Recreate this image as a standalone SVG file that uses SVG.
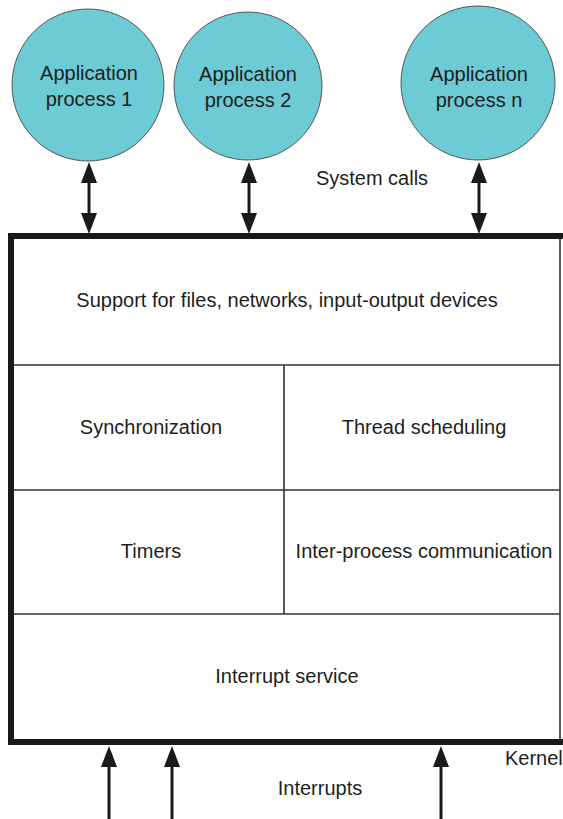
<svg xmlns="http://www.w3.org/2000/svg" width="563" height="819" viewBox="0 0 563 819">
  <style>
    text { font-family: "Liberation Sans", Arial, sans-serif; font-size: 20px; fill: #1e1e1e; text-anchor: middle; }
    .proc { fill: #6ccbd4; stroke: #555; stroke-width: 1; }
    .kernel { fill: none; stroke: #1a1a1a; stroke-width: 6; stroke-linejoin: miter; }
    .cell { stroke: #333; stroke-width: 1.6; fill: none; }
    .arrow { stroke: #1a1a1a; stroke-width: 3; fill: none; }
  </style>
  <defs>
    <marker id="head" markerUnits="userSpaceOnUse" markerWidth="21" markerHeight="16" refX="0" refY="8" orient="auto-start-reverse">
      <path d="M0,0 L21,8 L0,16 z" fill="#1a1a1a"/>
    </marker>
  </defs>

  <rect width="563" height="819" fill="#fff"/>

  <!-- application processes -->
  <g id="app1">
    <circle class="proc" cx="88" cy="85" r="76"/>
    <text x="89" y="80">Application</text>
    <text x="89" y="106">process 1</text>
  </g>
  <g id="app2">
    <circle class="proc" cx="248" cy="86" r="74"/>
    <text x="248" y="81">Application</text>
    <text x="248" y="107">process 2</text>
  </g>
  <g id="appn">
    <circle class="proc" cx="478" cy="83" r="77"/>
    <text x="479" y="81">Application</text>
    <text x="479" y="107">process n</text>
  </g>

  <!-- kernel frame and layers -->
  <g id="kernel">
    <line class="cell" x1="560" y1="236" x2="560" y2="742"/>
    <line class="cell" x1="11" y1="365" x2="560" y2="365"/>
    <line class="cell" x1="11" y1="490" x2="560" y2="490"/>
    <line class="cell" x1="11" y1="614" x2="560" y2="614"/>
    <line class="cell" x1="284" y1="365" x2="284" y2="614"/>
    <path class="kernel" d="M563,236 H11 V742 H563"/>
    <text x="505" y="765" style="text-anchor:start">Kernel</text>
  </g>
  <g id="support">
    <text x="287" y="307">Support for files, networks, input-output devices</text>
  </g>
  <g id="sync">
    <text x="151" y="434">Synchronization</text>
  </g>
  <g id="sched">
    <text x="424" y="434">Thread scheduling</text>
  </g>
  <g id="timers">
    <text x="151" y="558">Timers</text>
  </g>
  <g id="ipc">
    <text x="424" y="558">Inter-process communication</text>
  </g>
  <g id="isr">
    <text x="287" y="683">Interrupt service</text>
  </g>

  <!-- connectors -->
  <g id="connectors">
    <line class="arrow" x1="89" y1="183" x2="89" y2="213" marker-start="url(#head)" marker-end="url(#head)"/>
    <line class="arrow" x1="249" y1="183" x2="249" y2="213" marker-start="url(#head)" marker-end="url(#head)"/>
    <line class="arrow" x1="479" y1="183" x2="479" y2="213" marker-start="url(#head)" marker-end="url(#head)"/>
    <line class="arrow" x1="109" y1="819" x2="109" y2="767" marker-end="url(#head)"/>
    <line class="arrow" x1="172" y1="819" x2="172" y2="767" marker-end="url(#head)"/>
    <line class="arrow" x1="441" y1="819" x2="441" y2="767" marker-end="url(#head)"/>
    <text x="372" y="185">System calls</text>
    <text x="320" y="795">Interrupts</text>
  </g>
</svg>
